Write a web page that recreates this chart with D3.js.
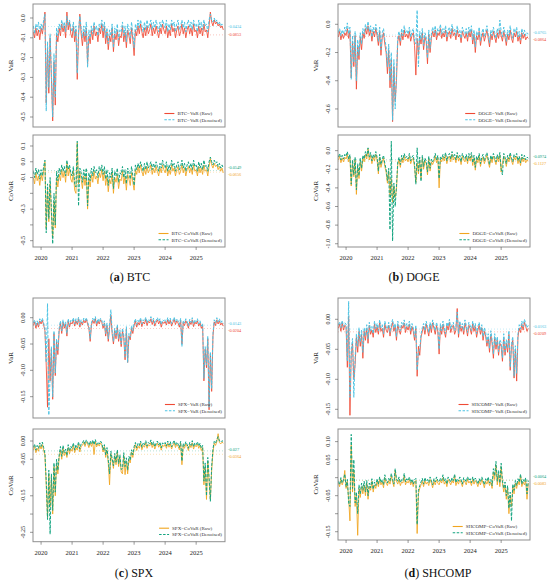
<!DOCTYPE html>
<html><head><meta charset="utf-8">
<script src="https://cdn.jsdelivr.net/npm/d3@7"></script>
<style>
body{margin:0;background:#fff}
svg{display:block}
text{font-family:"Liberation Serif","DejaVu Serif",serif}
</style>
</head><body>
<svg id="chart" width="550" height="584"></svg>
<script>
// time grid: half-month steps from Oct 2019
const T0 = 2019.75, DT = 1/24;
const yearTicks = [2020, 2021, 2022, 2023, 2024, 2025];

// BTC / DOGE values in percent (x0.01)
const btcVaRRaw = [-7,-10,-5,-9,-6,-11, -5,-8,-4,3, -43,-15,-38,-10,-30,-52,-22,-44,-8,-12, -5,-9,-3,-7,-4,-10,3,-6,-2,-8,
  -10,-4,-12,-6,-31,-9,2,-8,-14,-7,-12,-5,-23,-9,-13,-6,-11,-4,-9,-7,-12,-5,-8,-3,
  -10,-4,-13,-7,-16,-9,-12,-5,-17,-8,-11,-6,-14,-9,-10,-4,-12,-7,-15,-6,-9,-13,-5,-11,
  -19,-6,-9,-4,-8,-3,-7,-10,-5,-9,-4,-8,-6,-3,-9,-5,-8,-4,-7,-10,-5,-8,-3,-6,
  -8,-4,-10,-6,-9,-3,-7,-5,-10,-6,-4,-9,-7,-3,-8,-5,-10,-6,-4,-8,-5,-9,-3,-7,
  -6,-10,-4,-8,-5,-9,-3,-7,-6,-10,-4,3,-2,-4,-1,-3,-2,-4,-3,-5,-4,-6];
const btcVaRDen = [-4,-8,-3,-6,-2,-7, -3,-6,-1,2, -47,-12,-35,-8,-28,-50,-18,-40,-5,-9, -3,-6,-1,-5,-2,-7,1,-4,-1,-5,
  -7,-2,-9,-4,-28,-6,1,-5,-10,-4,-9,-2,-25,-6,-10,-4,-8,-2,-6,-4,-9,-3,-5,-1,
  -7,-2,-10,-5,-13,-6,-9,-3,-15,-5,-8,-3,-11,-6,-7,-2,-9,-4,-12,-3,-6,-10,-2,-8,
  -15,-3,-6,-1,-5,-1,-4,-7,-2,-6,-1,-5,-3,-1,-6,-2,-5,-1,-4,-7,-2,-5,-1,-3,
  -5,-1,-7,-3,-6,-1,-4,-2,-7,-3,-1,-6,-4,-1,-5,-2,-7,-3,-1,-5,-2,-6,-1,-4,
  -3,-7,-1,-5,-2,-6,-1,-4,-3,-7,-1,2,-1,-2,0,-2,-1,-3,-2,-4,-3,-4];
const btcCoVaRRaw = [-10,-14,-7,-12,-9,-15, -8,-12,-6,0, -42,-18,-38,-14,-33,-48,-25,-42,-10,-16, -8,-12,-5,-10,-6,-13,-1,-9,-4,-11,
  -13,-6,-18,-20,12,-14,-7,-11,-17,-9,-15,-8,-30,-11,-16,-8,-13,-6,-11,-9,-14,-7,-10,-5,
  -12,-6,-15,-9,-19,-11,-14,-7,-20,-10,-13,-8,-17,-11,-12,-6,-14,-9,-18,-8,-11,-15,-7,-13,
  -18,-5,-8,-3,-7,-2,-6,-9,-4,-8,-3,-7,-5,-2,-8,-4,-7,-3,-6,-9,-4,-7,-2,-5,
  -7,-3,-9,-5,-8,-2,-6,-4,-9,-5,-3,-8,-6,-2,-7,-4,-9,-5,-3,-7,-4,-8,-2,-6,
  -5,-9,-3,-7,-4,-8,-2,-6,-5,-9,-3,2,-2,-4,-1,-3,-2,-5,-3,-6,-4,-7];
const btcCoVaRDen = [-6,-10,-4,-8,-5,-11, -5,-9,-3,1, -45,-14,-36,-10,-30,-52,-20,-40,-6,-12, -4,-8,-2,-6,-3,-9,1,-5,-2,-7,
  -9,-3,-14,-16,13,-28,-4,-7,-13,-5,-11,-4,-28,-7,-12,-4,-9,-3,-7,-5,-10,-3,-6,-2,
  -8,-3,-11,-5,-15,-7,-10,-4,-17,-6,-9,-4,-13,-7,-8,-3,-10,-5,-14,-4,-7,-11,-3,-9,
  -15,-2,-5,-1,-4,0,-3,-6,-1,-5,0,-4,-2,0,-5,-1,-4,0,-3,-6,-1,-4,1,-2,
  -4,0,-6,-2,-5,1,-3,-1,-6,-2,0,-5,-3,1,-4,-1,-6,-2,0,-4,-1,-5,1,-3,
  -2,-6,0,-4,-1,-5,1,-3,-2,-6,0,3,0,-2,1,-1,0,-3,-1,-4,-2,-4];

const dogeVaRRaw = [-9,-5,-11,-7,-10,-6, -8,-3,-10,-5, -38,-12,-30,-8,-46,-15,-25,-9,-18,-6, -10,-3,-7,-1,-8,-4,-12,-5,-9,-3,
  -8,-15,-5,-22,-9,-6,-14,-20,-35,-18,-45,-25,-69,-30,-55,-40,-12,-8,-15,-6,-11,-4,-9,-7,
  -10,-5,-12,-8,-6,-15,-36,-10,-22,-8,-14,-6,-18,-9,-12,-28,-7,-20,-10,-5,-9,-4,-11,-6,
  -8,-3,-10,-6,-9,-4,-12,-7,-5,-10,-3,-8,-6,-11,-4,-9,-7,-13,-5,-8,-10,-6,-12,-5,
  -9,-4,-14,-7,-20,-8,-11,-5,-15,-9,-6,-12,-8,-4,-10,-16,-7,-11,-5,-9,-13,-6,-10,-4,
  -8,-12,-5,-9,-15,-7,-11,-4,-10,-13,-6,-9,-5,-12,-8,-14,-6,-10,-7,-11,-9,-10];
const dogeVaRDen = [-6,-3,-8,-4,-7,-2, -5,1,-7,-2, -39,-8,-27,-5,-40,-11,-22,-6,-14,-3, -7,0,-4,2,-5,-1,-9,-2,-6,0,
  -5,-12,-2,-18,-6,-3,-11,-16,-30,-14,-40,-20,-68,-25,-60,-35,-9,-5,-12,-3,-8,-1,-6,-4,
  -7,-2,-9,-5,-3,-12,-14,10,-30,-5,-11,-3,-15,-6,-9,-24,-4,-17,-7,-2,-6,-1,-8,-3,
  -5,0,-7,-3,-6,-1,-9,-4,-2,-7,0,-5,-3,-8,-1,-6,-4,-10,-2,-5,-7,-3,-9,-2,
  -6,-1,-11,-4,-16,-5,-8,-2,-12,-6,-3,-9,-5,-1,-7,-13,-4,-8,-2,-6,-10,-3,-7,3,
  -5,-9,-2,-6,-12,-4,-8,-1,-7,-10,-3,-6,-2,-9,-5,-11,-3,-7,-4,-8,-6,-7];
const dogeCoVaRRaw = [-10,-6,-13,-8,-12,-7, -9,-4,-12,-7, -38,-14,-28,-10,-47,-18,-30,-12,-22,-8, -12,-4,-9,2,-10,-5,-14,-7,-11,-4,
  -10,-25,-7,-18,-12,-8,-17,-23,-35,-22,-48,-30,-55,-38,-50,-42,-15,-10,-18,-8,-13,-6,-11,-9,
  -12,-6,-14,-10,-8,-18,-34,-13,-25,-10,-30,-8,-20,-11,-14,-26,-9,-22,-12,-15,-11,-6,-13,-8,
  -40,-9,-12,-7,-11,-5,-14,-8,-6,-12,-4,-10,-7,-13,-5,-11,-8,-15,-6,-10,-12,-7,-14,-6,
  -11,-5,-16,-8,-21,-9,-13,-6,-17,-10,-7,-14,-9,-5,-12,-18,-8,-13,-6,-10,-15,-7,-12,-5,
  -23,-13,-6,-10,-17,-8,-12,-5,-11,-15,-7,-10,-6,-14,-9,-16,-7,-12,-8,-13,-10,-11];
const dogeCoVaRDen = [-7,-3,-10,-5,-9,-4, -6,-1,-9,-4, -36,-10,-26,-7,-42,-14,-27,-8,-19,-5, -9,-1,-6,3,-7,-2,-11,-4,-8,-1,
  -7,-22,-4,-15,-9,-5,-14,-20,-32,-19,-85,10,-97,-35,-60,-38,-12,-7,-15,-5,-10,-3,-8,-6,
  -9,-3,-11,-7,-5,-15,-36,3,-22,-7,-33,-5,-17,-8,-11,-23,-6,-19,-9,-12,-8,-3,-10,-5,
  -30,-6,-9,-4,-8,-2,-11,-5,-3,-9,-1,-7,-4,-10,-2,-8,-5,-12,-3,-7,-9,-4,-11,-3,
  -8,-2,-13,-5,-18,-6,-10,-3,-14,-7,-4,-11,-6,-2,-9,-15,-5,-10,-3,-7,-12,-4,-9,-2,
  -20,-26,-3,-7,-14,-5,-9,-2,-8,-12,-4,-7,-3,-11,-6,-13,-4,-9,-5,-10,-7,-8];

// SPX / SHCOMP values in per-mille (x0.001)
const spxVaRRaw = [-15,-8,-20,-10,-18,-6, -12,-5,-14,-25, -90,-170,-40,-120,-60,-155,-30,-110,-45,-70, -25,-10,-30,-8,-20,-12,-35,-6,-18,-9,
  -12,-4,-16,-6,-13,-2,-18,-8,-14,-5,-10,-3,-12,-20,-45,-14,-5,-11,-2,-16,-6,-12,-4,-9,
  -20,-10,-35,-15,-45,-20,5,-30,-50,-25,-40,-18,-45,-28,-55,-25,-38,-80,-22,-85,-35,-42,-20,-30,
  -15,-6,-18,-9,-14,-4,-17,-8,-12,-3,-15,-7,-10,-2,-13,-5,-16,-9,-4,-12,-6,-18,-8,-11,
  -7,-14,-4,-12,-5,-16,-9,-3,-13,-6,-10,-18,-5,-50,-9,-15,-6,-11,-20,-7,-13,-4,-17,-8,
  -12,-6,-16,-10,-20,-15,-120,-60,-95,-40,-175,-70,-140,-35,-8,-15,-4,-12,-6,-14,-10,-16];
const spxVaRDen = [-10,-4,-15,-6,-13,-2, -8,-1,-10,-20, -85,27,-185,-110,-55,-150,-25,-105,-40,-62, -20,-6,-25,-4,-16,-8,-30,-2,-14,-5,
  -8,0,-12,-2,-9,1,-14,-4,-10,-1,-6,0,-8,-16,-40,-10,-1,-7,2,-12,-2,-8,-1,-5,
  -15,-6,-30,-10,-40,-15,15,-25,-45,-20,-35,-13,-40,-23,-50,-20,-33,-75,-17,-85,-30,-37,-15,-25,
  -10,-2,-13,-5,-9,0,-12,-4,-7,1,-10,-3,-6,2,-8,-1,-11,-5,0,-7,-2,-13,-4,-6,
  -3,-9,0,-7,-1,-11,-5,1,-8,-2,-6,-13,-1,-55,-5,-10,-2,-7,-15,-3,-9,0,-12,-4,
  -8,-2,-12,-6,-16,-11,-115,-55,-90,-35,-170,-65,-135,-30,-4,-10,0,-8,-2,-10,-6,-11];
const spxCoVaRRaw = [-25,-15,-32,-20,-28,-12, -22,-10,-25,-40, -120,-210,-90,-180,-100,-200,-70,-150,-60,-90, -45,-25,-50,-20,-40,-30,-45,-18,-35,-22,
  -28,-12,-32,-18,-25,-8,-30,-15,-12,-4,-15,-2,-8,-18,-5,-15,-3,-37,-2,-16,-8,-14,-5,-12,
  -30,-15,-45,-25,-60,-120,-35,-55,-75,-40,-65,-30,-70,-45,-85,-90,-40,-92,-55,-90,-50,-60,-30,-45,
  -22,-10,-26,-14,-20,-6,-24,-12,-17,-5,-20,-10,-14,-4,-18,-8,-22,-12,-6,-17,-9,-25,-11,-15,
  -9,-20,-6,-17,-8,-22,-12,-5,-18,-9,-14,-24,-6,-65,-12,-20,-8,-15,-26,-10,-18,-5,-22,-11,
  -16,-8,-20,-12,-26,-18,-120,-70,-160,-55,-110,-160,-80,-30,-6,-12,-2,20,-4,-8,-3,-6];
const spxCoVaRDen = [-18,-8,-25,-12,-20,-5, -15,-3,-18,-35, -110,-215,-80,-255,-90,-190,-60,-140,-50,-80, -38,-15,-42,-12,-32,-22,-40,-10,-28,-14,
  -20,-5,-25,-10,-18,-2,-22,-8,-6,2,-9,3,-3,-12,0,-9,3,-10,4,-10,-3,-8,0,-6,
  -24,-10,-38,-18,-52,-90,-28,-48,-68,-34,-58,-24,-62,-38,-78,-75,-32,-70,-46,-80,-42,-52,-24,-38,
  -15,-4,-19,-7,-13,0,-17,-6,-11,1,-14,-4,-8,3,-12,-2,-16,-6,0,-11,-3,-19,-5,-9,
  -4,-14,0,-11,-2,-16,-6,2,-12,-3,-8,-18,-1,-55,-6,-14,-2,-9,-20,-4,-12,1,-16,-5,
  -10,-2,-14,-6,-20,-12,-110,-60,-150,-45,-100,-165,-70,-22,-1,-6,4,12,0,-3,1,-2];

const shVaRRaw = [-15,-8,-20,-5,-18,-10, -12,-80,5,-160, -60,-40,-100,-75,-30,-55,-20,-45,-25,-65, -20,-35,-15,-40,-10,-25,-18,-30,-8,-22,
  -12,-25,-6,-20,-15,-30,-8,-18,-22,-10,-28,-14,-5,-20,-12,-35,-8,-18,-25,-10,-15,-6,-22,-12,
  -18,-8,-25,-12,-20,-35,-15,-95,-45,-60,-30,-20,-12,-25,-8,-18,-28,-10,-22,-6,-15,-25,-10,-20,
  -58,-12,-25,-8,-20,-30,-10,-18,-5,-22,-14,-10,-25,-18,18,-30,-8,-20,-12,-25,-6,-15,-28,-10,
  -15,-25,-8,-20,-12,-30,-18,-10,-25,-14,-35,-20,-28,-45,-30,-55,-25,-40,-65,-30,-50,-35,-60,-40,
  -45,-70,-30,-60,-40,-55,-25,-85,-45,-35,-98,-50,-103,-30,-15,-22,-8,-18,-5,-12,-20,-15];
const shVaRDen = [-10,-4,-14,-2,-12,-6, -8,-70,30,-130, -50,-32,-130,-65,-24,-45,-14,-38,-18,-55, -14,-28,-9,-33,-5,-19,-12,-24,-3,-16,
  -7,-19,-1,-14,-9,-24,-3,-12,-16,-5,-22,-9,0,-15,-7,-29,-3,-12,-19,-5,-10,-1,-16,-7,
  -12,-3,-19,-7,-14,-29,-10,-85,-55,-50,-25,-14,-7,-19,-3,-12,-22,-5,-16,-1,-10,-19,-5,-14,
  -50,-7,-19,-3,-14,-24,-5,-12,0,-16,-9,-5,-19,-12,12,-24,-3,-14,-7,-19,-1,-10,-22,-5,
  -10,-19,-3,-14,-7,-24,-12,-5,-19,-9,-29,-14,-22,-39,-24,-48,-19,-34,-58,-24,-44,-29,-54,-34,
  -39,-64,-24,-54,-34,-48,-19,-80,-40,-29,-95,-44,-90,-24,-9,-16,-3,-12,0,-7,-14,-10];
const shCoVaRRaw = [-15,-25,-5,-20,-10,20, -30,-10,-60,-120, 90,-40,20,-80,-50,-160,-30,-55,-25,-45, -20,-50,-15,-60,-25,-35,-10,-40,-20,-30,
  -10,-25,-5,-20,-12,-28,0,-15,-22,-8,-18,5,-12,-25,20,-10,-18,-6,-22,-12,-15,5,-20,-10,
  -15,-5,-20,-10,-25,-12,-8,-155,-45,-30,-20,-10,-25,-8,-18,-12,-22,-5,-15,-28,-10,-20,-6,-15,
  -20,-8,-15,0,-18,-10,-25,-5,-12,-20,-8,-15,5,-22,-10,-18,-6,-14,-25,-8,-12,-20,-4,-15,
  -10,-22,-5,-18,-8,-15,-25,-10,-20,-5,-15,-28,-10,-18,-6,-22,-12,-30,15,-5,35,-20,10,-25,
  30,-15,-40,-20,-60,-30,-100,-50,-80,-25,-45,-15,-30,-10,-20,5,-25,-12,-20,-8,-60,-15];
const shCoVaRDen = [-10,-20,0,-15,-5,10, -25,-5,-70,-80, 120,-30,50,-70,-40,-100,-20,-45,-15,-35, -10,-40,-8,-50,-15,-28,-3,-32,-12,-22,
  -3,-18,2,-14,-5,-20,8,-8,-15,-2,-10,12,-5,-18,25,-3,-10,2,-14,-5,-8,12,-12,-3,
  -8,2,-14,-4,-18,-6,-2,-130,-35,-22,-12,-2,-18,0,-10,-5,-14,2,-8,-20,-3,-12,2,-8,
  -12,-2,-8,8,-10,-3,-18,2,-5,-12,0,-8,10,-14,-3,-10,2,-6,-18,0,-5,-12,3,-8,
  -3,-14,2,-10,-1,-8,-18,-3,-12,2,-8,-20,-3,-10,2,-15,-5,-22,25,5,45,-10,20,-15,
  40,-8,-30,-12,-50,-22,-85,-40,-120,-18,-35,-8,-22,-3,-12,10,-18,-5,-12,0,-45,-8];

// mean values printed at the right of each plot [raw, denoised]
const btcVaRMeans = [-0.0853, -0.0434];
const btcCoVaRMeans = [-0.0656, -0.0549];
const dogeVaRMeans = [-0.0864, -0.0765];
const dogeCoVaRMeans = [-0.1127, -0.0974];
const spxVaRMeans = [-0.0204, -0.0143];
const spxCoVaRMeans = [-0.0364, -0.027];
const shVaRMeans = [-0.0209, -0.0163];
const shCoVaRMeans = [-0.0083, -0.0064];

const COL = {
  VaR: {raw: "#EF4A35", den: "#4DC4E4"},
  CoVaR: {raw: "#F1A51F", den: "#13A480"}
};

// subplot layout
const L = [33, 225], R = [338, 530];
const PLOTS = [
  {asset:"BTC", m:"VaR", xr:L, yr:[4,127], dom:[-0.5505,0.0707], unit:0.01, raw:btcVaRRaw, den:btcVaRDen, means:btcVaRMeans,
   ticks:[0,-0.1,-0.2,-0.3,-0.4,-0.5], labs:[0,-0.1,-0.2,-0.3,-0.4,-0.5], dec:1},
  {asset:"BTC", m:"CoVaR", xr:L, yr:[135,247], dom:[-0.54,0.1696], unit:0.01, raw:btcCoVaRRaw, den:btcCoVaRDen, means:btcCoVaRMeans,
   ticks:[0.1,0,-0.1,-0.2,-0.3,-0.4,-0.5], labs:[0.1,0,-0.1,-0.3,-0.5], dec:1, xaxis:true},
  {asset:"DOGE", m:"VaR", xr:R, yr:[4,127], dom:[-0.728,0.144], unit:0.01, raw:dogeVaRRaw, den:dogeVaRDen, means:dogeVaRMeans,
   ticks:[0,-0.2,-0.4,-0.6], labs:[0,-0.2,-0.4,-0.6], dec:1},
  {asset:"DOGE", m:"CoVaR", xr:R, yr:[135,247], dom:[-1.035,0.168], unit:0.01, raw:dogeCoVaRRaw, den:dogeCoVaRDen, means:dogeCoVaRMeans,
   ticks:[0,-0.2,-0.4,-0.6,-0.8,-1.0], labs:[0,-0.2,-0.4,-0.6,-0.8,-1.0], dec:1, xaxis:true},
  {asset:"SPX", m:"VaR", xr:L, yr:[298,418], dom:[-0.1905,0.0374], unit:0.001, raw:spxVaRRaw, den:spxVaRDen, means:spxVaRMeans,
   ticks:[0,-0.05,-0.1,-0.15], labs:[0,-0.05,-0.1,-0.15], dec:2},
  {asset:"SPX", m:"CoVaR", xr:L, yr:[429,541.7], dom:[-0.2757,0.0329], unit:0.001, raw:spxCoVaRRaw, den:spxCoVaRDen, means:spxCoVaRMeans,
   ticks:[0,-0.05,-0.1,-0.15,-0.2,-0.25], labs:[0,-0.05,-0.15,-0.25], dec:2, xaxis:true},
  {asset:"SHCOMP", m:"VaR", xr:R, yr:[298,418], dom:[-0.1645,0.0355], unit:0.001, raw:shVaRRaw, den:shVaRDen, means:shVaRMeans,
   ticks:[0,-0.05,-0.1,-0.15], labs:[0,-0.05,-0.1,-0.15], dec:2},
  {asset:"SHCOMP", m:"CoVaR", xr:R, yr:[429,540], dom:[-0.173,0.135], unit:0.001, raw:shCoVaRRaw, den:shCoVaRDen, means:shCoVaRMeans,
   ticks:[0.1,0.05,0,-0.05,-0.1,-0.15], labs:[0.1,0.05,-0.05,-0.15], dec:2, xaxis:true}
];

const CAPTIONS = [
  {l:"a", name:"BTC", x:130, y:281},
  {l:"b", name:"DOGE", x:414, y:281},
  {l:"c", name:"SPX", x:134, y:577},
  {l:"d", name:"SHCOMP", x:438, y:577}
];

const svg = d3.select("#chart");
svg.append("rect").attr("width",550).attr("height",584).attr("fill","#fff");

PLOTS.forEach((p, k) => {
  const x = d3.scaleLinear().domain([2019.74, 2025.93]).range(p.xr);
  const y = d3.scaleLinear().domain(p.dom).range([p.yr[1], p.yr[0]]);
  const [x0, x1] = p.xr, [y0, y1] = p.yr;
  const col = COL[p.m];
  const g = svg.append("g");

  const cid = "clip" + k;
  svg.append("clipPath").attr("id", cid).append("rect")
    .attr("x", x0).attr("y", y0).attr("width", x1 - x0).attr("height", y1 - y0);
  const inner = g.append("g").attr("clip-path", `url(#${cid})`);

  // dotted mean lines (mostly hidden under the series)
  [["raw", p.means[0]], ["den", p.means[1]]].forEach(([s, v]) => {
    inner.append("line").attr("x1", x0).attr("x2", x1).attr("y1", y(v)).attr("y2", y(v))
      .attr("stroke", col[s]).attr("stroke-width", 0.7).attr("stroke-dasharray", "1,2").attr("opacity", 0.45);
  });

  const line = d3.line().x((d, i) => x(T0 + i * DT)).y(d => y(d * p.unit));
  inner.append("path").datum(p.raw).attr("d", line)
    .attr("fill", "none").attr("stroke", col.raw).attr("stroke-width", 1).attr("opacity", 0.85)
    .attr("stroke-linejoin", "round");
  inner.append("path").datum(p.den).attr("d", line)
    .attr("fill", "none").attr("stroke", col.den).attr("stroke-width", 1)
    .attr("stroke-dasharray", "3,1.5");

  // frame
  g.append("rect").attr("x", x0).attr("y", y0).attr("width", x1 - x0).attr("height", y1 - y0)
    .attr("fill", "none").attr("stroke", "#8f8f8f").attr("stroke-width", 1);

  // y axis
  p.ticks.forEach(t => {
    g.append("line").attr("x1", x0 - 3).attr("x2", x0).attr("y1", y(t)).attr("y2", y(t))
      .attr("stroke", "#555").attr("stroke-width", 0.6);
  });
  p.labs.forEach(t => {
    g.append("text").attr("transform", `translate(${x0 - 8},${y(t)}) rotate(-90)`)
      .attr("text-anchor", "middle").attr("font-size", 6).attr("fill", "#222")
      .text(t.toFixed(p.dec));
  });
  g.append("text").attr("transform", `translate(${x0 - 20.5},${(y0 + y1) / 2}) rotate(-90)`)
    .attr("text-anchor", "middle").attr("font-size", 7).attr("fill", "#222").text(p.m);

  // x axis on the lower plot
  if (p.xaxis) {
    yearTicks.forEach(yr => {
      g.append("line").attr("x1", x(yr)).attr("x2", x(yr)).attr("y1", y1).attr("y2", y1 + 3)
        .attr("stroke", "#555").attr("stroke-width", 0.6);
      g.append("text").attr("x", x(yr)).attr("y", y1 + 13).attr("text-anchor", "middle")
        .attr("font-size", 6.5).attr("fill", "#222").text(yr);
    });
  }

  // legend, right-aligned in the bottom-right corner
  const rows = [
    {s:"raw", t:`${p.asset}\u2212${p.m} (Raw)`, dash:null},
    {s:"den", t:`${p.asset}\u2212${p.m} (Denoised)`, dash:"2.5,1.5"}
  ];
  const leg = g.append("g");
  const tx = rows.map((r, i) => leg.append("text").attr("y", y1 - 13.5 + i * 6.3 + 1.7)
    .attr("font-size", 5).attr("fill", "#333").text(r.t));
  const w = d3.max(tx, t => t.node().getComputedTextLength());
  const lx = x1 - 3 - w;
  tx.forEach(t => t.attr("x", lx));
  rows.forEach((r, i) => {
    const ly = y1 - 13.5 + i * 6.3;
    leg.append("line").attr("x1", lx - 13).attr("x2", lx - 3).attr("y1", ly).attr("y2", ly)
      .attr("stroke", col[r.s]).attr("stroke-width", 1.1).attr("stroke-dasharray", r.dash);
  });

  // mean labels outside the right edge
  let yRaw = y(p.means[0]), yDen = y(p.means[1]);
  if (yRaw - yDen < 7) {
    const mid = (yRaw + yDen) / 2;
    yDen = mid - 3.5; yRaw = mid + 3.5;
  }
  g.append("text").attr("x", x1 + 3).attr("y", yDen + 1.5).attr("font-size", 4.3)
    .attr("fill", col.den).text(String(p.means[1]));
  g.append("text").attr("x", x1 + 3).attr("y", yRaw + 1.5).attr("font-size", 4.3)
    .attr("fill", col.raw).text(String(p.means[0]));
});

// sub-figure captions
CAPTIONS.forEach(c => {
  const t = svg.append("text").attr("x", c.x).attr("y", c.y).attr("text-anchor", "middle")
    .attr("font-size", 12).attr("fill", "#111");
  t.append("tspan").text("(");
  t.append("tspan").attr("font-weight", "bold").text(c.l);
  t.append("tspan").text(") " + c.name);
});
</script>
</body></html>
